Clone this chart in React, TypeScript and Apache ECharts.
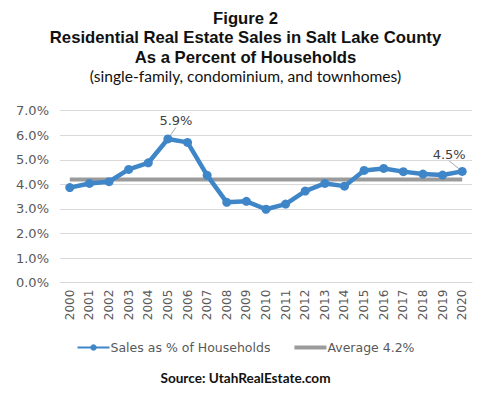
import React, { useEffect, useRef } from "react";
import * as echarts from "echarts";

const years = ["2000","2001","2002","2003","2004","2005","2006","2007","2008","2009","2010","2011","2012","2013","2014","2015","2016","2017","2018","2019","2020"];
const salesPct = [3.87,4.04,4.11,4.61,4.88,5.85,5.71,4.37,3.27,3.31,2.99,3.2,3.73,4.04,3.93,4.57,4.65,4.52,4.42,4.38,4.53];
const averageValue = 4.2;
const averagePct = years.map(() => averageValue);
const labeledIndex = [5, 20];
const labelTexts: Record<number, string> = { 5: "5.9%", 20: "4.5%" };
const titleLines = ["Figure 2", "Residential Real Estate Sales in Salt Lake County", "As a Percent of Households"];

export default function App() {
  const ref = useRef<HTMLDivElement>(null);
  useEffect(() => {
    if (!ref.current) return;
    const chart = echarts.init(ref.current, undefined, { renderer: "svg" });
    const grey = "#595959";
    const titleFont = { fontFamily: "Liberation Sans", fontWeight: "bold", fontSize: 16.7, lineHeight: 18, color: "#111" };
    chart.setOption({
      animation: false,
      backgroundColor: "#ffffff",
      title: [
        ...titleLines.map((t, i) => ({ text: t, left: "center", top: 9 + i * 19.5, padding: 0, textStyle: titleFont })),
        { text: "(single-family, condominium, and townhomes)", left: "center", top: 67, padding: 0, textStyle: { fontFamily: "Lato", fontWeight: "normal", fontSize: 15.6, lineHeight: 17, color: "#111" } },
        { text: "Source: UtahRealEstate.com", left: "center", top: 370, padding: 0, textStyle: { fontFamily: "Lato", fontWeight: "bold", fontSize: 13.6, lineHeight: 15, color: "#111" } },
      ],
      grid: { left: 60, right: 19, top: 110.7, bottom: 113.3, containLabel: false },
      legend: {
        top: 336,
        left: "center",
        itemWidth: 32,
        itemHeight: 8,
        itemGap: 24,
        textStyle: { fontFamily: "DejaVu Sans", fontSize: 12.5, color: grey, padding: [0, 0, 0, -4] },
        data: [
          { name: "Sales as % of Households" },
          { name: "Average 4.2%", icon: "path://M0,0 L32,0 L32,4 L0,4 Z", itemStyle: { color: "#9B9B9B" } },
        ],
      },
      xAxis: {
        type: "category",
        data: years,
        boundaryGap: true,
        axisLine: { show: true, lineStyle: { color: "#D9D9D9", width: 1 } },
        axisTick: { show: false },
        axisLabel: { rotate: 90, fontFamily: "DejaVu Sans", fontSize: 12, color: grey, margin: 7, interval: 0 },
      },
      yAxis: {
        type: "value",
        min: 0,
        max: 7,
        interval: 1,
        axisLine: { show: false },
        axisTick: { show: false },
        splitLine: { lineStyle: { color: "#D9D9D9", width: 1 } },
        axisLabel: { formatter: (v: number) => v.toFixed(1) + "%", fontFamily: "DejaVu Sans", fontSize: 13, color: grey, margin: 11 },
      },
      series: [
        {
          name: "Average 4.2%",
          type: "line",
          data: averagePct,
          symbol: "none",
          lineStyle: { color: "#9B9B9B", width: 4 },
          itemStyle: { color: "#9B9B9B" },
          z: 2,
        },
        {
          name: "Sales as % of Households",
          type: "line",
          data: salesPct.map((v, i) =>
            labeledIndex.includes(i)
              ? {
                  value: v,
                  label: {
                    show: true,
                    formatter: labelTexts[i],
                    position: "top",
                    fontFamily: "DejaVu Sans",
                    fontSize: 13,
                    color: "#404040",
                  },
                  labelLine: { show: true, smooth: false, lineStyle: { color: "#A6A6A6", width: 1 } },
                }
              : v
          ),
          symbol: "circle",
          symbolSize: 9,
          lineStyle: { color: "#3F86C8", width: 4.5 },
          itemStyle: { color: "#3F86C8" },
          labelLine: { show: true, lineStyle: { color: "#A6A6A6", width: 1 } },
          labelLayout: (p: any) => {
            const cx = p.rect.x + p.rect.width / 2;
            const cy = p.rect.y + p.rect.height / 2;
            if (p.dataIndex === 5) return { x: cx + 8, y: cy - 18, align: "center", verticalAlign: "middle" };
            if (p.dataIndex === 20) return { x: cx - 13, y: cy - 17, align: "center", verticalAlign: "middle" };
            return {};
          },
          z: 3,
        },
      ],
    });
    return () => chart.dispose();
  }, []);
  return <div ref={ref} style={{ position: "fixed", left: 0, top: 0, width: 491, height: 396 }} />;
}
